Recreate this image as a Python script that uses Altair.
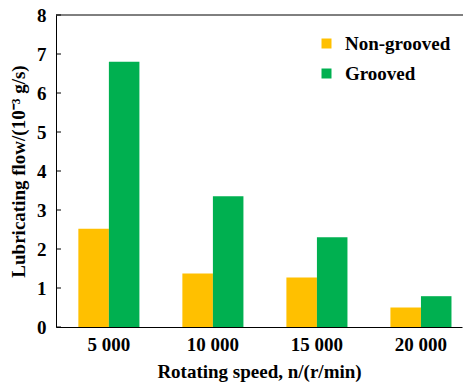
import altair as alt
import pandas as pd

speeds = ["5 000", "10 000", "15 000", "20 000"]
non_grooved = [2.52, 1.37, 1.27, 0.50]
grooved = [6.80, 3.35, 2.30, 0.79]
series = ["Non-grooved", "Grooved"]
colors = ["#FFC000", "#00B050"]
y_ticks = [0, 1, 2, 3, 4, 5, 6, 7, 8]

rows = []
for s, a, b in zip(speeds, non_grooved, grooved):
    rows.append({"speed": s, "type": series[0], "flow": a})
    rows.append({"speed": s, "type": series[1], "flow": b})
df = pd.DataFrame(rows)
ticks_df = pd.DataFrame({"t": y_ticks})

FONT = "Liberation Serif"
FS = 19
W = 406

yscale = alt.Scale(domain=[0, 8], nice=False)
y_axis = alt.Axis(title="Lubricating flow/(10⁻³ g/s)", values=y_ticks,
                  tickCount=9, tickSize=0, labelPadding=10, titlePadding=8,
                  grid=False, labelOverlap=False,
                  labelFont=FONT, labelFontSize=FS, labelFontWeight="bold",
                  labelColor="black", titleFont=FONT, titleFontSize=FS,
                  titleFontWeight="bold", titleColor="black",
                  domainColor="black")

bars = alt.Chart(df).mark_bar().encode(
    x=alt.X("speed:N", sort=speeds,
            scale=alt.Scale(paddingInner=0.413, paddingOuter=0.158, align=0.68),
            axis=alt.Axis(title="Rotating speed, n/(r/min)", labelAngle=0,
                          ticks=False, labelPadding=8, titlePadding=8,
                          labelFont=FONT, labelFontSize=FS, labelFontWeight="bold",
                          labelColor="black", titleFont=FONT, titleFontSize=FS,
                          titleFontWeight="bold", titleColor="black",
                          domainColor="black")),
    xOffset=alt.XOffset("type:N", sort=series),
    y=alt.Y("flow:Q", scale=yscale, axis=y_axis),
    color=alt.Color("type:N", sort=series,
                    scale=alt.Scale(domain=series, range=colors),
                    legend=alt.Legend(title=None, orient="none", legendX=261, legendY=19,
                                      symbolType="square", symbolSize=100,
                                      symbolStrokeWidth=0, rowPadding=10,
                                      labelFontSize=FS, labelFont=FONT,
                                      labelFontWeight="bold", labelOffset=9,
                                      labelColor="black", padding=0)),
)

ticks = alt.Chart(ticks_df).mark_rule(color="black", strokeWidth=1).encode(
    y=alt.Y("t:Q", scale=yscale, axis=y_axis),
    x=alt.value(0),
    x2=alt.value(5),
)

top_line = alt.Chart(pd.DataFrame({"t": [8]})).mark_rule(color="black", strokeWidth=1).encode(
    y=alt.Y("t:Q", scale=yscale, axis=y_axis),
    x=alt.value(0),
    x2=alt.value(W + 1),
)

chart = alt.layer(bars, ticks, top_line).properties(
    width=W, height=312,
    autosize=alt.AutoSizeParams(type="none"),
    padding={"left": 48, "top": 7, "right": 1, "bottom": 57},
).configure_view(
    stroke=None
)

chart.save("out.html", embed_options={"renderer": "svg", "actions": False})
